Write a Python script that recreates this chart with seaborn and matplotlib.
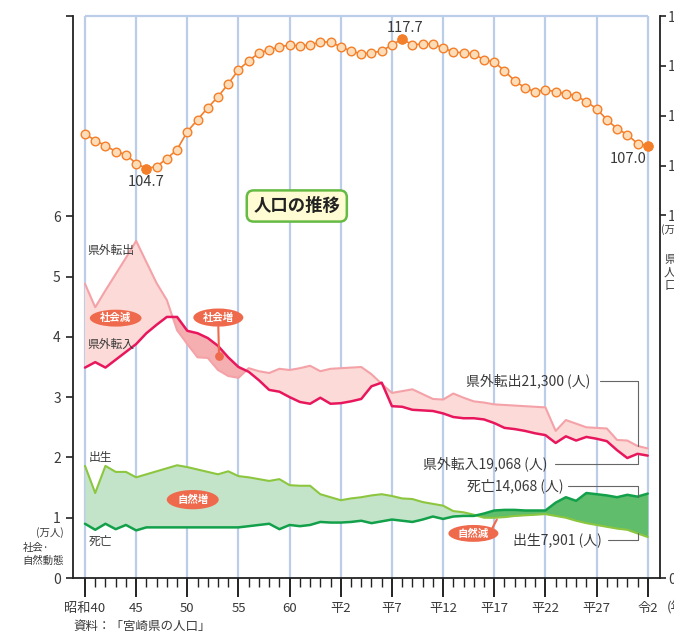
import numpy as np
import matplotlib
matplotlib.use('Agg')
import matplotlib.pyplot as plt
import seaborn as sns
from matplotlib.patches import Ellipse

sns.set_theme(style='white')
plt.rcParams['font.family'] = ['Noto Sans CJK JP', 'DejaVu Sans']
plt.rcParams['axes.unicode_minus'] = False

# 年（昭和40年〜令和2年）
years = list(range(1965, 2021))

# 県人口（万人）
population = [108.2, 107.5, 107.0, 106.4, 106.1, 105.2, 104.7, 104.9, 105.7, 106.6,
              108.4, 109.6, 110.8, 111.9, 113.2, 114.6, 115.5, 116.3, 116.6, 116.9,
              117.1, 117.0, 117.1, 117.4, 117.4, 116.9, 116.5, 116.2, 116.3, 116.5,
              117.1, 117.7, 117.1, 117.2, 117.2, 116.8, 116.4, 116.3, 116.2, 115.6,
              115.4, 114.5, 113.5, 112.8, 112.4, 112.6, 112.4, 112.2, 112.0, 111.4,
              110.7, 109.6, 108.7, 108.1, 107.2, 107.0]

# 社会動態（万人）
out_migration = [4.88, 4.49, 4.77, 5.04, 5.31, 5.59, 5.24, 4.89, 4.61, 4.11,
                 3.88, 3.66, 3.65, 3.45, 3.35, 3.32, 3.48, 3.43, 3.40, 3.47,
                 3.45, 3.48, 3.52, 3.43, 3.47, 3.48, 3.49, 3.50, 3.38, 3.22,
                 3.07, 3.10, 3.13, 3.05, 2.97, 2.96, 3.06, 2.99, 2.93, 2.91,
                 2.88, 2.87, 2.86, 2.85, 2.84, 2.83, 2.44, 2.62, 2.56, 2.50,
                 2.49, 2.48, 2.29, 2.28, 2.19, 2.15]
in_migration = [3.49, 3.58, 3.49, 3.62, 3.75, 3.88, 4.06, 4.20, 4.33, 4.33,
                4.10, 4.06, 3.98, 3.85, 3.66, 3.50, 3.42, 3.28, 3.12, 3.09,
                3.00, 2.92, 2.89, 2.99, 2.89, 2.90, 2.93, 2.97, 3.18, 3.24,
                2.85, 2.84, 2.79, 2.78, 2.77, 2.73, 2.67, 2.65, 2.65, 2.63,
                2.57, 2.49, 2.47, 2.44, 2.40, 2.37, 2.24, 2.35, 2.28, 2.34,
                2.31, 2.27, 2.12, 1.99, 2.06, 2.03]

# 自然動態（万人）
births = [1.86, 1.41, 1.86, 1.76, 1.76, 1.67, 1.72, 1.77, 1.82, 1.87,
          1.84, 1.80, 1.76, 1.72, 1.77, 1.69, 1.67, 1.64, 1.61, 1.64,
          1.54, 1.53, 1.53, 1.39, 1.34, 1.29, 1.32, 1.34, 1.37, 1.39,
          1.36, 1.32, 1.31, 1.26, 1.23, 1.20, 1.11, 1.09, 1.05, 1.00,
          1.00, 1.01, 1.03, 1.04, 1.05, 1.06, 1.03, 1.00, 0.95, 0.91,
          0.88, 0.85, 0.82, 0.80, 0.74, 0.68]
deaths = [0.90, 0.80, 0.90, 0.81, 0.88, 0.79, 0.84, 0.84, 0.84, 0.84,
          0.84, 0.84, 0.84, 0.84, 0.84, 0.84, 0.86, 0.88, 0.90, 0.81,
          0.88, 0.86, 0.88, 0.93, 0.92, 0.92, 0.93, 0.95, 0.91, 0.94,
          0.97, 0.95, 0.93, 0.97, 1.02, 0.98, 1.02, 1.03, 1.03, 1.07,
          1.12, 1.13, 1.13, 1.12, 1.12, 1.12, 1.25, 1.34, 1.28, 1.41,
          1.39, 1.37, 1.34, 1.38, 1.35, 1.40]

major_years = [1965, 1970, 1975, 1980, 1985, 1990, 1995, 2000, 2005, 2010, 2015, 2020]
x_labels = ['昭和40', '45', '50', '55', '60', '平2', '平7', '平12', '平17', '平22', '平27', '令2']
left_ticks = [0, 1, 2, 3, 4, 5, 6]
right_ticks = [100, 105, 110, 115, 120]
highlight_years = [1971, 1996, 2020]

# 色
c_grid = '#bccde9'
c_pop = '#f47f2a'
c_pop_face = '#fddcb8'
c_out = '#f4a2a8'
c_in = '#e8175d'
c_soc_dec = '#fcdad7'
c_soc_inc = '#f6afb1'
c_birth = '#8cc63f'
c_death = '#12a04a'
c_nat_inc = '#c3e4c9'
c_nat_dec = '#5fbd6c'
c_badge = '#ef6a4c'
c_text = '#3a3a3a'

fig = plt.figure(figsize=(6.74, 6.32), dpi=100, facecolor='white')
ax = fig.add_axes([0.1088, 0.0854, 0.8697, 0.8892])
ax2 = ax.twinx()

ytop = 9.32
ax.set_xlim(1963.86, 2021.15)
ax.set_ylim(0, ytop)
ax2.set_ylim(63.6, 120.0)

# 縦の目盛り線と上枠
ax.vlines(major_years, 0, ytop, color=c_grid, lw=1.6, zorder=0)
ax.hlines(ytop, major_years[0], major_years[-1], color=c_grid, lw=1.6, zorder=0, clip_on=False)

yr = np.array(years)
out_a = np.array(out_migration)
in_a = np.array(in_migration)
b_a = np.array(births)
d_a = np.array(deaths)

# 社会動態
ax.fill_between(yr, out_a, in_a, where=out_a >= in_a, interpolate=True,
                color=c_soc_dec, lw=0, zorder=1)
ax.fill_between(yr, out_a, in_a, where=out_a < in_a, interpolate=True,
                color=c_soc_inc, lw=0, zorder=1)
sns.lineplot(x=years, y=out_migration, ax=ax, color=c_out, lw=1.5, zorder=2)
sns.lineplot(x=years, y=in_migration, ax=ax, color=c_in, lw=1.8, zorder=3)

# 自然動態
ax.fill_between(yr, b_a, d_a, where=b_a >= d_a, interpolate=True,
                color=c_nat_inc, lw=0, zorder=1)
ax.fill_between(yr, b_a, d_a, where=b_a < d_a, interpolate=True,
                color=c_nat_dec, lw=0, zorder=1)
sns.lineplot(x=years, y=births, ax=ax, color=c_birth, lw=1.5, zorder=2)
sns.lineplot(x=years, y=deaths, ax=ax, color=c_death, lw=1.8, zorder=3)

# 県人口
sns.lineplot(x=years, y=population, ax=ax2, color=c_pop, lw=1.2, marker='o',
             markersize=6.2, markerfacecolor=c_pop_face, markeredgecolor=c_pop,
             markeredgewidth=1.0)
hl_pop = [population[years.index(y)] for y in highlight_years]
sns.scatterplot(x=highlight_years, y=hl_pop, ax=ax2, color=c_pop, s=42,
                edgecolor=c_pop, linewidth=1.0, zorder=5)

ax2.text(1970.98, 103.3, '104.7', ha='center', va='center', fontsize=10.5, color=c_text)
ax2.text(1996.28, 118.8, '117.7', ha='center', va='center', fontsize=10.5, color=c_text)
ax2.text(2019.9, 105.64, '107.0', ha='right', va='center', fontsize=10.5, color=c_text)

# 系列名
lab = dict(fontsize=8.5, color=c_text, va='center', ha='left')
ax.text(1965.2, 5.43, '県外転出', **lab)
ax.text(1965.2, 3.88, '県外転入', **lab)
ax.text(1965.4, 2.00, '出生', **lab)
ax.text(1965.4, 0.60, '死亡', **lab)

# バッジ
def badge(cx, cy, w, h, text):
    ax.add_patch(Ellipse((cx, cy), w, h, color=c_badge, lw=0, zorder=6))
    ax.text(cx, cy, text, ha='center', va='center', fontsize=7.5, color='white',
            fontweight='bold', zorder=7)

badge(1968.0, 4.31, 5.05, 0.28, '社会減')
badge(1978.03, 4.32, 4.89, 0.30, '社会増')
badge(1975.53, 1.30, 5.08, 0.32, '自然増')
badge(2002.96, 0.74, 4.89, 0.28, '自然減')
ax.plot([1978.03, 1978.1], [4.17, 3.68], color=c_badge, lw=1.5, zorder=6)
ax.scatter([1978.1], [3.68], s=40, color=c_badge, zorder=6, lw=0)
ax.plot([2004.76, 2005.25], [0.81, 0.97], color=c_badge, lw=1.5, zorder=6)

# タイトル
ax.text(1985.7, 6.17, '人口の推移', ha='center', va='center', fontsize=12.5,
        fontweight='bold', color='#222', zorder=8,
        bbox=dict(boxstyle='round,pad=0.38,rounding_size=0.4', fc='#fffbd2',
                  ec='#66bb44', lw=1.8))

# 右側の引き出し線と値
lead = dict(color='#666', lw=0.8, zorder=4)
ax.plot([2015.34, 2019.09, 2019.09], [3.267, 3.267, 2.189], **lead)
ax.plot([2010.94, 2019.09, 2019.09], [1.891, 1.891, 2.040], **lead)
ax.plot([2012.24, 2019.09, 2019.09], [1.526, 1.526, 1.348], **lead)
ax.plot([2016.15, 2019.09, 2019.09], [0.630, 0.630, 0.746], **lead)
val = dict(fontsize=10, color=c_text, ha='right', va='center')
ax.text(2014.4, 3.267, '県外転出21,300 (人)', **val)
ax.text(2010.2, 1.891, '県外転入19,068 (人)', **val)
ax.text(2011.8, 1.526, '死亡14,068 (人)', **val)
ax.text(2015.55, 0.630, '出生7,901 (人)', **val)

# 軸
ax.set_xticks(major_years, labels=x_labels)
ax.set_xticks(years, minor=True)
ax.tick_params(axis='x', which='major', direction='out', length=13.7, width=1.4,
               pad=3.5, labelsize=9.5, labelcolor=c_text, color='#222', bottom=True)
ax.tick_params(axis='x', which='minor', direction='out', length=6.5, width=1.0,
               color='#222', bottom=True)
ax.set_yticks(left_ticks + [ytop], labels=[str(t) for t in left_ticks] + [''])
ax.tick_params(axis='y', direction='out', length=5, width=1.2, pad=4,
               labelsize=10, labelcolor=c_text, color='#222', left=True)

ax2.set_yticks([63.6] + right_ticks, labels=['0'] + [str(t) for t in right_ticks])
ax2.tick_params(axis='y', direction='out', length=4, width=1.2, pad=2,
                labelsize=10, labelcolor=c_text, color='#222', right=True)

for a in (ax, ax2):
    a.set_xlabel('')
    a.set_ylabel('')
    a.grid(False)
    a.spines['top'].set_visible(False)
ax.spines['right'].set_visible(False)
ax2.spines['left'].set_visible(False)
ax2.spines['bottom'].set_visible(False)
for s in ('left', 'bottom'):
    ax.spines[s].set_color('#222')
    ax.spines[s].set_linewidth(1.3)
ax2.spines['right'].set_color('#222')
ax2.spines['right'].set_linewidth(1.3)
ax.set_facecolor('none')
ax2.set_facecolor('none')

# 周りの文字
W, H = 674, 632
ft = dict(fontsize=7.5, color=c_text, va='center')
fig.text(64 / W, 1 - 533 / H, '(万人)', ha='right', **ft)
fig.text(23 / W, 1 - 548 / H, '社会·', ha='left', **ft)
fig.text(22 / W, 1 - 561 / H, '自然動態', ha='left', **ft)
fig.text(661 / W, 1 - 230 / H, '(万人)', ha='left', **ft)
fig.text(664 / W, 1 - 272 / H, '県\n人\n口', ha='left', fontsize=8.5, color=c_text,
         va='center', linespacing=1.0)
fig.text(667 / W, 1 - 607 / H, '(年)', ha='left', va='center', fontsize=9.5, color=c_text)
fig.text(73 / W, 1 - 626 / H, '資料：「宮崎県の人口」', ha='left', va='center',
         fontsize=9, color=c_text)

fig.savefig('out.png', dpi=100, facecolor='white')
